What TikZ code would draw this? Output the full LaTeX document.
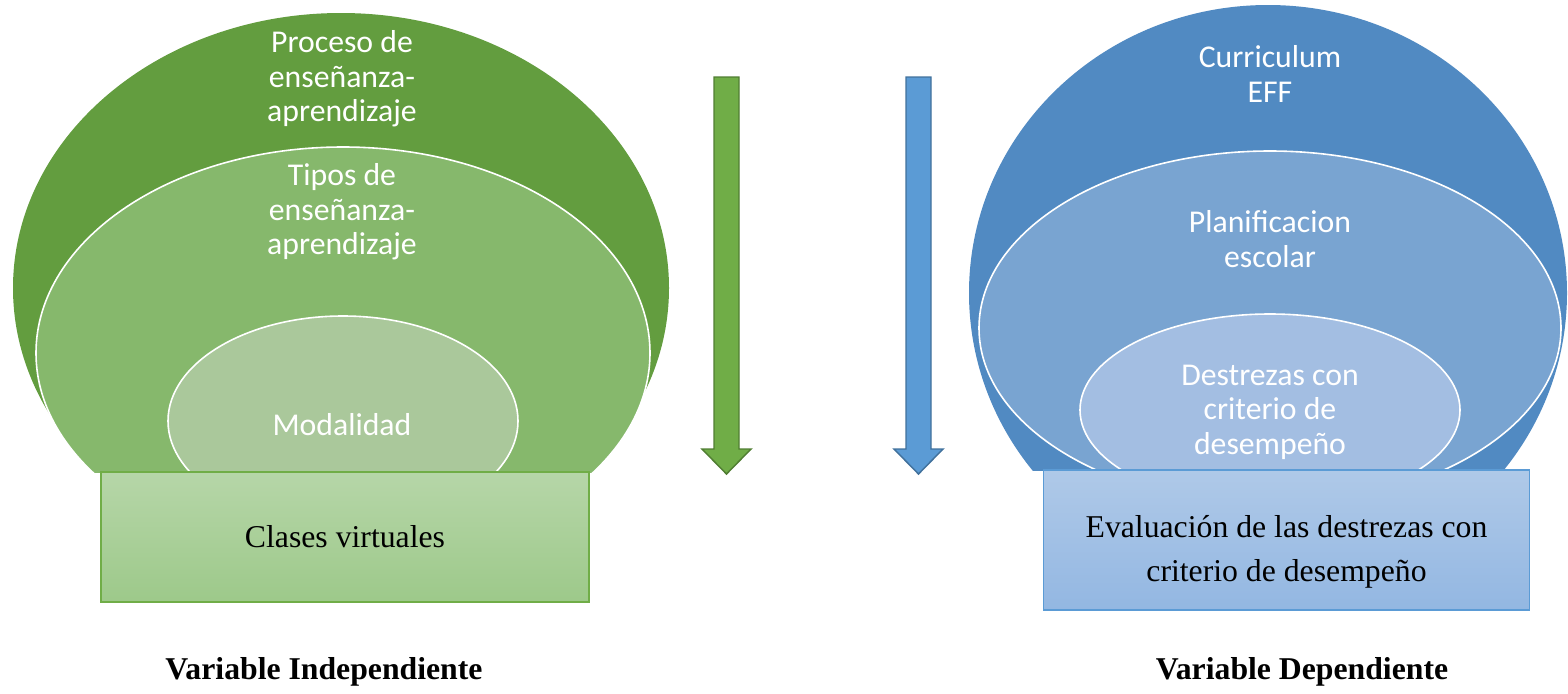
\documentclass[tikz,border=0pt]{standalone}
\usepackage{fontspec}
\setmainfont{Liberation Serif}
\newfontfamily\carl{Carlito}
\definecolor{gOut}{RGB}{99,157,63}
\definecolor{gMid}{RGB}{134,184,108}
\definecolor{gIn}{RGB}{170,200,155}
\definecolor{gRectT}{RGB}{182,214,168}
\definecolor{gRectB}{RGB}{157,201,138}
\definecolor{gLine}{RGB}{112,173,71}
\definecolor{gArr}{RGB}{112,173,71}
\definecolor{gArrD}{RGB}{80,126,50}
\definecolor{bOut}{RGB}{81,138,194}
\definecolor{bMid}{RGB}{121,164,209}
\definecolor{bIn}{RGB}{163,190,226}
\definecolor{bRectT}{RGB}{175,201,232}
\definecolor{bRectB}{RGB}{147,183,226}
\definecolor{bLine}{RGB}{91,155,213}
\definecolor{bArr}{RGB}{91,155,213}
\definecolor{bArrD}{RGB}{65,113,156}
\tikzset{
  ringtext/.style={text=white, align=center, inner sep=0pt, font=\carl\fontsize{23.8}{25.9}\selectfont},
  boxtext/.style={text=black, align=center, inner sep=0pt, font=\fontsize{23.8}{33}\selectfont},
  captext/.style={text=black, inner sep=0pt, font=\bfseries\fontsize{23.8}{28}\selectfont},
  wring/.style={draw=white, line width=1.2pt},
  blockarrow/.style={line width=1.1pt, line join=miter}
}
\begin{document}
\begin{tikzpicture}[x=0.75pt,y=-0.75pt]
\useasboundingbox (0,0) rectangle (1568,693);
% ---- left rings ----
\begin{scope}
\clip (0,0) rectangle (800,472);
\fill[gOut] (341,288) ellipse [x radius=328, y radius=275];
\filldraw[fill=gMid, wring] (343,353) ellipse [x radius=307, y radius=206];
\filldraw[fill=gIn, wring] (343,421) ellipse [x radius=175, y radius=105];
\end{scope}
% ---- right rings ----
\begin{scope}
\clip (800,0) rectangle (1568,470);
\fill[bOut] (1268,293) ellipse [x radius=299, y radius=288];
\filldraw[fill=bMid, wring] (1270,328) ellipse [x radius=291, y radius=177];
\filldraw[fill=bIn, wring] (1270,410) ellipse [x radius=190, y radius=96];
\end{scope}
% ---- boxes ----
\node[draw=gLine, line width=0.9pt, top color=gRectT, bottom color=gRectB,
      minimum width=366pt, minimum height=97.5pt, inner sep=0pt] (clases) at (345,537) {};
\node[draw=bLine, line width=0.9pt, top color=bRectT, bottom color=bRectB,
      minimum width=365pt, minimum height=105pt, inner sep=0pt] (evalbox) at (1286.5,540) {};
% ---- arrows ----
\filldraw[blockarrow, fill=gArr, draw=gArrD] (714,77) -- (739,77) -- (739,449) -- (751,449) -- (726.5,474) -- (702,449) -- (714,449) -- cycle;
\filldraw[blockarrow, fill=bArr, draw=bArrD] (906,77) -- (931,77) -- (931,449) -- (943,449) -- (918.5,474) -- (894,449) -- (906,449) -- cycle;
% ---- ring texts ----
\node[ringtext] (proceso) at (342,79) {Proceso de\\enseñanza-\\aprendizaje};
\node[ringtext] (tipos) at (342,212) {Tipos de\\enseñanza-\\aprendizaje};
\node[ringtext] (modal) at (342,425) {Modalidad};
\node[ringtext] (curr) at (1270,74) {Curriculum\\EFF};
\node[ringtext] (planif) at (1270,239) {Planificacion\\escolar};
\node[ringtext] (destr) at (1270,412) {Destrezas con\\criterio de\\desempeño};
% ---- box texts ----
\node[boxtext] (clasestxt) at (clases.center) {Clases virtuales};
\node[boxtext] (evaltxt) at (1286.5,552) {Evaluación de las destrezas con\\criterio de desempeño};
% ---- captions ----
\node[captext] (vi) at (324,672) {Variable Independiente};
\node[captext] (vd) at (1302,672) {Variable Dependiente};
\end{tikzpicture}
\end{document}
